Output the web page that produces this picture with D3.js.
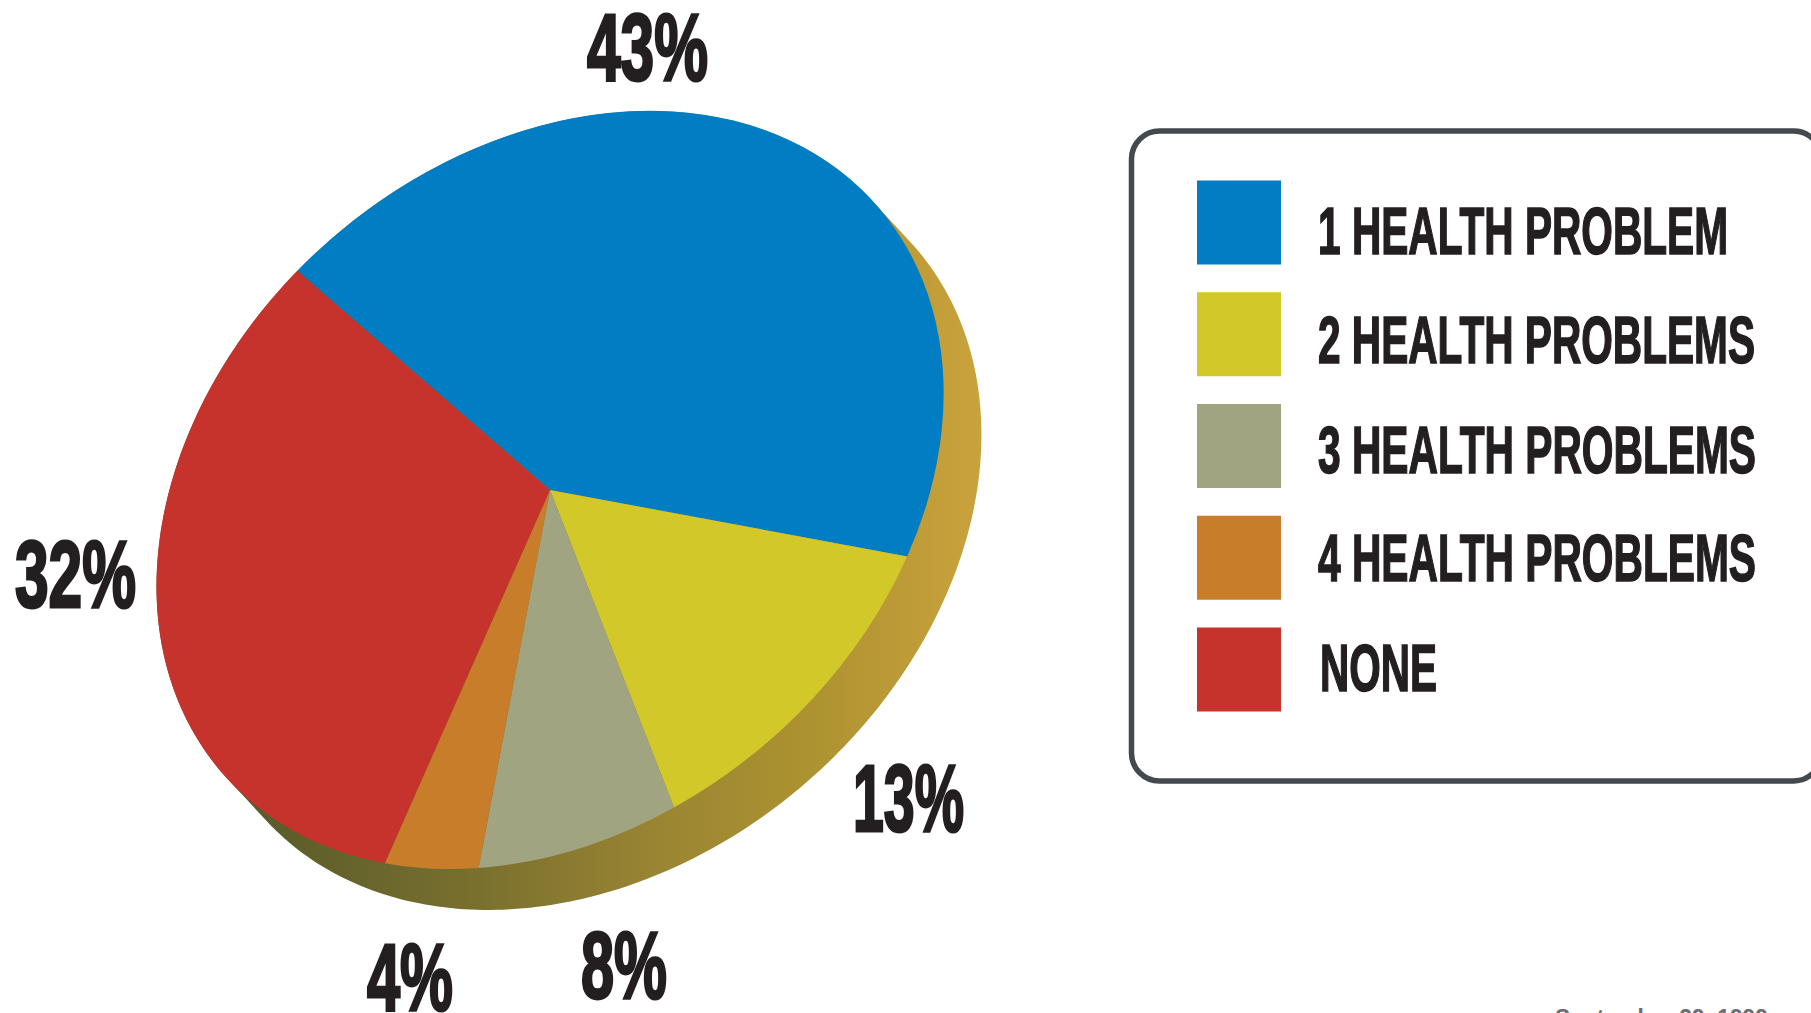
<!DOCTYPE html>
<html><head><meta charset="utf-8">
<script src="https://cdn.jsdelivr.net/npm/d3@7/dist/d3.min.js"></script>
<style>html,body{margin:0;padding:0;background:#fff;overflow:hidden}svg{display:block}
text{font-family:"Liberation Sans Narrow","Liberation Sans",Arial,sans-serif;font-weight:700;fill:#231f20;stroke:#231f20}</style>
</head><body><svg id="c" width="1811" height="1013"></svg>
<script>
const categories = ["1 HEALTH PROBLEM","2 HEALTH PROBLEMS","3 HEALTH PROBLEMS","4 HEALTH PROBLEMS","NONE"];
const values = [43,13,8,4,32];
const colors = ["#007dc3","#d2c82a","#a1a480","#c87d2a","#c5332c"];
const valueLabels = ["43%","13%","8%","4%","32%"];
const footer = "September 29, 1999";

// layout (not data)
const cx=550,cy=490,rA=433,rB=333,tilt=-40.8,depthX=38,depthY=41,startDeg=-6.4;
const labelBoxes=[[587,80,121],[853,831,111],[581,998,86],[367,1010,86],[15,607,121]];
const legendTextBoxes=[[1318,254,410],[1318,363,437],[1318,473,438],[1318,581,438],[1320,691,117]];

const svg=d3.select("#c");
const rad=Math.PI/180;
const ellipsePts=(dx,dy)=>d3.range(0,360,1).map(t=>{
  const u=rA*Math.cos(t*rad),v=rB*Math.sin(t*rad),p=tilt*rad;
  return [cx+dx+u*Math.cos(p)-v*Math.sin(p),cy+dy+u*Math.sin(p)+v*Math.cos(p)];
});

// gradient for the side wall
const grad=svg.append("defs").append("linearGradient").attr("id","side")
  .attr("gradientUnits","userSpaceOnUse").attr("x1",225).attr("x2",980).attr("y1",0).attr("y2",0);
[[0,"#53582a"],[.337,"#7a702e"],[.577,"#9a8533"],[.758,"#ab9130"],[1,"#caa23c"]]
  .forEach(s=>grad.append("stop").attr("offset",s[0]).attr("stop-color",s[1]));

// side wall: hull of the front and the back ellipse
const hull=d3.polygonHull(ellipsePts(0,0).concat(ellipsePts(depthX,depthY)));
svg.append("path").attr("d",d3.line()(hull)+"Z").attr("fill","url(#side)");

// top face: a unit pie stretched and tilted into the ellipse
const pie=d3.pie().sort(null).startAngle(startDeg*rad).endAngle((startDeg+360)*rad);
const arc=d3.arc().innerRadius(0).outerRadius(1);
svg.append("g").attr("transform",`translate(${cx},${cy}) rotate(${tilt}) scale(${rA},${rB})`)
  .selectAll("path").data(pie(values)).join("path")
  .attr("d",arc)
  .attr("fill",(d,i)=>colors[i]);

function fit(sel,box,fs,sw){
  sel.attr("x",box[0]).attr("y",box[1]).attr("font-size",fs).attr("stroke-width",sw)
     .attr("textLength",box[2]).attr("lengthAdjust","spacingAndGlyphs");
}
// value labels
valueLabels.forEach((t,i)=>fit(svg.append("text").text(t),labelBoxes[i],94,3));

// legend
svg.append("rect").attr("x",1131.5).attr("y",131).attr("width",690).attr("height",650)
  .attr("rx",28).attr("fill","none").attr("stroke","#434a4f").attr("stroke-width",5.5);
const ly=d3.scaleLinear().domain([0,4]).range([180.5,627.5]);
categories.forEach((c,i)=>{
  svg.append("rect").attr("x",1197).attr("y",ly(i)).attr("width",84).attr("height",84).attr("fill",colors[i]);
  fit(svg.append("text").text(c),legendTextBoxes[i],66,1.6);
});

// footer (cut off by the page edge in the reference)
svg.append("text").text(footer).attr("x",1555).attr("y",1026).attr("font-size",24)
  .attr("textLength",213).attr("lengthAdjust","spacingAndGlyphs")
  .style("font-family","'Liberation Sans',Arial,sans-serif")
  .style("fill","#6d6e71").style("stroke","none");
</script></body></html>
